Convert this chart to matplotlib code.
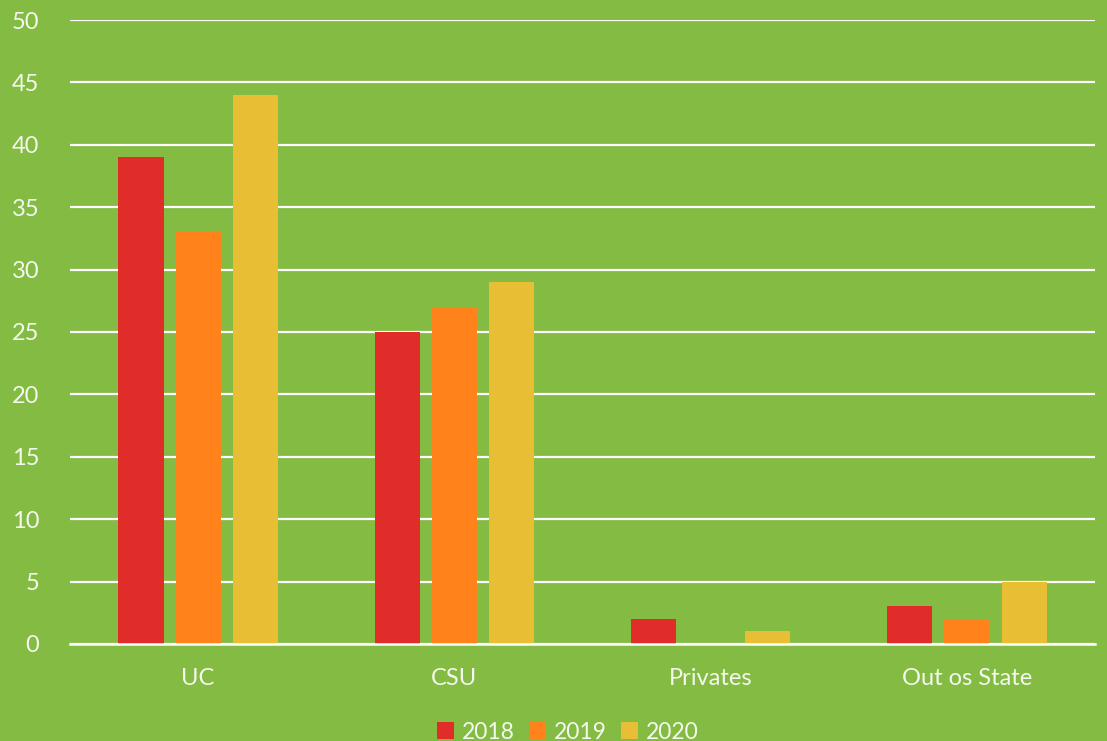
import matplotlib.pyplot as plt
import numpy as np

categories = ['UC', 'CSU', 'Privates', 'Out os State']
years = ['2018', '2019', '2020']
v2018 = [39, 25, 2, 3]
v2019 = [33, 27, 0, 2]
v2020 = [44, 29, 1, 5]
yticks = [0, 5, 10, 15, 20, 25, 30, 35, 40, 45, 50]

bg = '#84BB42'
colors = ['#E02D2A', '#FF821A', '#E8BE35']

plt.rcParams['font.family'] = ['Lato', 'DejaVu Sans']

fig = plt.figure(figsize=(11.07, 7.41), dpi=100, facecolor=bg)
ax = fig.add_axes([0.0632, 0.131, 0.926, 0.842])
ax.set_facecolor(bg)

x = np.arange(len(categories))
w = 0.176
step = 0.223
for i, (vals, yr) in enumerate(zip([v2018, v2019, v2020], years)):
    ax.bar(x + (i - 1) * step, vals, width=w, color=colors[i], label=yr, zorder=3)

ax.set_xlim(-0.5, len(categories) - 0.5)
ax.set_ylim(0, 50)
ax.set_yticks(yticks)
ax.set_xticks(x)
ax.set_xticklabels(categories)
ax.yaxis.grid(True, color='white', linewidth=1.6, zorder=0)
ax.set_axisbelow(True)
for s in ['top', 'right', 'left']:
    ax.spines[s].set_visible(False)
ax.spines['bottom'].set_color('white')
ax.spines['bottom'].set_linewidth(1.8)
ax.spines['bottom'].set_zorder(4)
ax.tick_params(axis='both', length=0, colors='#F4F8EE', labelsize=17)
ax.tick_params(axis='x', pad=17)
ax.tick_params(axis='y', pad=22)

leg = fig.legend(loc='lower center', ncol=3, frameon=False, bbox_to_anchor=(0.513, -0.03),
                 fontsize=16.5, handlelength=0.75, handleheight=0.75, handletextpad=0.35,
                 columnspacing=0.6, labelcolor='#F4F8EE')

plt.savefig('out.png', dpi=100, facecolor=bg)
